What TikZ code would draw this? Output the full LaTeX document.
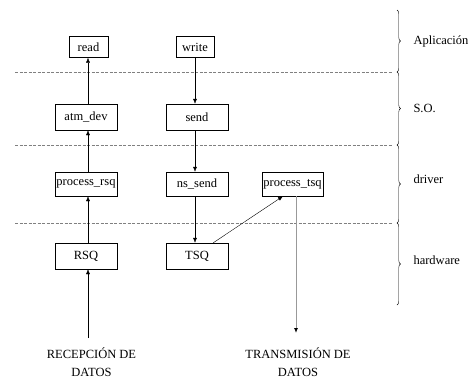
\documentclass[tikz,border=0pt]{standalone}
\usepackage{fontspec}
\setmainfont{Liberation Serif}
\usetikzlibrary{arrows.meta,decorations.pathreplacing}
\begin{document}
\begin{tikzpicture}[x=1pt,y=-1pt,
        font=\fontsize{12.5}{18}\selectfont,
        fsty/.style={rectangle,draw,thin,inner sep=0pt,minimum width=62pt,minimum height=25pt},
        asty/.style={rectangle,draw,thin,inner sep=0pt,minimum width=39pt,minimum height=21pt},
        lsty/.style={anchor=west},
        dsty/.style={align=center},
        arr/.style={-{Latex[length=5pt,width=4pt,black]},thin},
        sepsty/.style={gray,dash pattern=on 3pt off 1.5pt,thin},
        bsty/.style={decorate,decoration={brace,amplitude=3.5pt},thin},
    ]
    \useasboundingbox (0,0) rectangle (472,378);
    % capas
    \draw[sepsty] (15,72) -- (393,72);
    \draw[sepsty] (15,145) -- (393,145);
    \draw[sepsty] (15,223) -- (393,223);
    \draw[bsty] (397,10) -- (397,72);
    \draw[bsty] (397,72) -- (397,145);
    \draw[bsty] (397,145) -- (397,223);
    \draw[bsty] (397,223) -- (397,305);
    \node (lapp) at (410,41) [lsty] {Aplicación};
    \node (lso) at (410,108) [lsty] {S.O.};
    \node (ldrv) at (410,179) [lsty] {driver};
    \node (lhw) at (410,260) [lsty] {hardware};
    % funciones
    \node (read) at (88.5,47) [asty] {read};
    \node (write) at (195,47) [asty,minimum width=38pt] {write};
    \node (atm_dev) at (86,117) [fsty,minimum height=26pt] {atm\_dev};
    \node (send) at (197,117) [fsty,minimum height=26pt] {send};
    \node (process_rsq) at (86,184) [fsty,minimum height=24pt] {process\_rsq};
    \node (ns_send) at (197,184) [fsty,minimum height=24pt] {ns\_send};
    \node (process_tsq) at (292.5,184) [fsty,minimum width=61pt,minimum height=24pt] {process\_tsq};
    \node (RSQ) at (86,256) [fsty,minimum height=26pt] {RSQ};
    \node (TSQ) at (197,256) [fsty,minimum height=26pt] {TSQ};
    \node (rx) at (91.5,362) [dsty] {RECEPCIÓN DE\\DATOS};
    \node (tx) at (298,362) [dsty] {TRANSMISIÓN DE\\DATOS};
    \coordinate (rxin) at (88,338);
    \coordinate (txout) at (296,333);
    % flechas
    \draw[arr] (rxin) -- (rxin |- RSQ.south);
    \draw[arr] (rxin |- RSQ.north) -- (rxin |- process_rsq.south);
    \draw[arr] (rxin |- process_rsq.north) -- (rxin |- atm_dev.south);
    \draw[arr] (rxin |- atm_dev.north) -- (rxin |- read.south);
    \draw[arr] (write.south) -- (write.south |- send.north);
    \draw[arr] (write.south |- send.south) -- (write.south |- ns_send.north);
    \draw[arr] (write.south |- ns_send.south) -- (write.south |- TSQ.north);
    \draw[arr] ([xshift=-15pt]TSQ.north east) -- ([xshift=-9.5pt]process_tsq.south);
    \draw[arr,gray!80,line width=0.9pt] (txout |- process_tsq.south) -- (txout);
\end{tikzpicture}
\end{document}
